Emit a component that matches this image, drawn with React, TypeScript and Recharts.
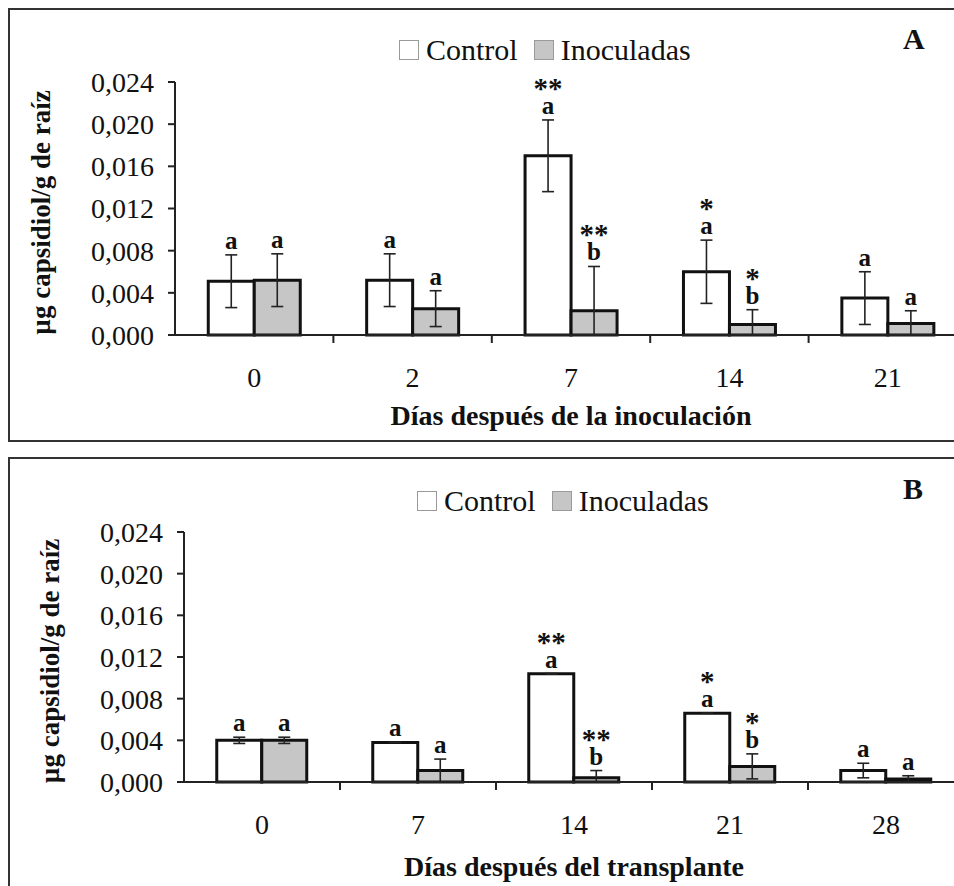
import React from 'react';
import { BarChart, Bar, XAxis, YAxis, ErrorBar, LabelList, Legend } from 'recharts';

const FONT = '"Liberation Serif", "Times New Roman", Times, serif';

// ---------- Panel A: días después de la inoculación ----------
const daysA = ['0', '2', '7', '14', '21'];
const controlA = [0.0051, 0.0052, 0.0170, 0.0060, 0.0035];
const inocA = [0.0052, 0.0025, 0.0023, 0.0010, 0.0011];
const controlAErr = [0.0025, 0.0025, 0.0034, 0.0030, 0.0025];
const inocAErr = [0.0025, 0.0017, 0.0042, 0.0014, 0.0012];
const controlALetters = ['a', 'a', 'a', 'a', 'a'];
const inocALetters = ['a', 'a', 'b', 'b', 'a'];
const controlAStars = ['', '', '**', '*', ''];
const inocAStars = ['', '', '**', '*', ''];

// ---------- Panel B: días después del transplante ----------
const daysB = ['0', '7', '14', '21', '28'];
const controlB = [0.0040, 0.0038, 0.0104, 0.0066, 0.0011];
const inocB = [0.0040, 0.0011, 0.0004, 0.0015, 0.0003];
const controlBErr = [0.0003, 0, 0, 0, 0.0007];
const inocBErr = [0.0003, 0.0011, 0.0007, 0.0012, 0.0003];
const controlBLetters = ['a', 'a', 'a', 'a', 'a'];
const inocBLetters = ['a', 'a', 'b', 'b', 'a'];
const controlBStars = ['', '', '**', '*', ''];
const inocBStars = ['', '', '**', '*', ''];

const yTicks = [0, 0.004, 0.008, 0.012, 0.016, 0.02, 0.024];

const X_TICK_SIZE = 6;
const X_TICK_MARGIN = 26;

const buildRows = (days, ctrl, inoc, ctrlErr, inocErr) =>
  days.map((d, i) => ({
    day: d,
    control: ctrl[i],
    inoc: inoc[i],
    controlErr: [Math.min(ctrlErr[i], ctrl[i]), ctrlErr[i]],
    inocErr: [Math.min(inocErr[i], inoc[i]), inocErr[i]],
  }));

const rowsA = buildRows(daysA, controlA, inocA, controlAErr, inocAErr);
const rowsB = buildRows(daysB, controlB, inocB, controlBErr, inocBErr);

const fmt = (v) => v.toFixed(3).replace('.', ',');

const makeLabel = (letters, stars, errs) => (props) => {
  const vb = props.viewBox || props;
  const x = Number(vb.x ?? props.x);
  const y = Number(vb.y ?? props.y);
  const w = Number(vb.width ?? props.width);
  const h = Number(vb.height ?? props.height);
  const idx = props.index;
  const v = Number(props.value);
  const ppu = v > 0 ? Math.abs(h) / v : 0;
  const top = Math.min(y, y + h) - (errs[idx] || 0) * ppu;
  const cx = x + w / 2;
  const base = top - 6;
  return (
    <g>
      <text x={cx} y={base} textAnchor="middle" fontFamily={FONT} fontWeight="bold" fontSize={25} fill="#111">
        {letters[idx]}
      </text>
      {stars[idx] ? (
        <text x={cx} y={base - 16} textAnchor="middle" fontFamily={FONT} fontWeight="bold" fontSize={29} fill="#111">
          {stars[idx]}
        </text>
      ) : null}
    </g>
  );
};

const makeXTick = (fallbackHalf) => (props) => {
  const { x, y, payload, index, visibleTicksCount } = props;
  const half = payload && typeof payload.offset === 'number' && payload.offset > 0 ? payload.offset : fallbackHalf;
  const axisY = y - X_TICK_SIZE - X_TICK_MARGIN;
  const last = typeof visibleTicksCount === 'number' ? index >= visibleTicksCount - 1 : false;
  return (
    <g>
      <text x={x} y={y} dy="0.71em" textAnchor="middle" fontFamily={FONT} fontSize={28} fill="#111">
        {payload.value}
      </text>
      {!last ? (
        <line x1={x + half} x2={x + half} y1={axisY} y2={axisY + 8} stroke="#222" strokeWidth={2} />
      ) : null}
    </g>
  );
};

const legendSquare = (bg) => ({
  width: 20,
  height: 20,
  border: '1px solid #9a9a9a',
  background: bg,
  display: 'inline-block',
  boxSizing: 'border-box' as const,
});

const LegendContent = () => (
  <div
    style={{
      display: 'flex',
      alignItems: 'center',
      fontFamily: FONT,
      fontSize: 30,
      lineHeight: '30px',
      color: '#111',
      whiteSpace: 'nowrap',
    }}
  >
    <span style={{ ...legendSquare('#ffffff'), marginRight: 7 }} />
    <span>Control</span>
    <span style={{ ...legendSquare('#c6c6c6'), marginLeft: 16, marginRight: 7 }} />
    <span>Inoculadas</span>
  </div>
);

const yLabel = (props) => {
  const vb = props.viewBox || {};
  const cx = vb.x - 54;
  const cy = vb.y + vb.height / 2 + 4;
  return (
    <text
      x={cx}
      y={cy}
      transform={`rotate(-90 ${cx} ${cy})`}
      textAnchor="middle"
      dominantBaseline="central"
      fontFamily={FONT}
      fontWeight="bold"
      fontSize={27}
      fill="#111"
    >
      µg capsidiol/g de raíz
    </text>
  );
};

const Y_AXIS_WIDTH = 80;

const Panel = ({ rows, title, letters, stars, errs, geom }) => {
  const { width, height, margin, legendLeft, legendTop, titleOffset } = geom;
  const plotW = width - margin.left - margin.right - Y_AXIS_WIDTH;
  const fallbackHalf = plotW / rows.length / 2;
  return (
    <BarChart
      width={width}
      height={height}
      data={rows}
      margin={margin}
      barCategoryGap="21%"
      barGap={0}
      style={{ fontFamily: FONT }}
    >
      <XAxis
        dataKey="day"
        height={100}
        interval={0}
        axisLine={{ stroke: '#222', strokeWidth: 2 }}
        tickLine={false}
        tickSize={X_TICK_SIZE}
        tickMargin={X_TICK_MARGIN}
        tick={makeXTick(fallbackHalf)}
        label={{
          value: title,
          position: 'insideBottom',
          offset: titleOffset,
          fill: '#111',
          fontSize: 28,
          fontWeight: 'bold',
          fontFamily: FONT,
        }}
      />
      <YAxis
        width={Y_AXIS_WIDTH}
        domain={[0, 0.024]}
        ticks={yTicks}
        interval={0}
        tickFormatter={fmt}
        axisLine={{ stroke: '#222', strokeWidth: 2 }}
        tickLine={{ stroke: '#222', strokeWidth: 2 }}
        tickSize={7}
        tickMargin={14}
        tick={{ fill: '#111', fontSize: 28, fontFamily: FONT }}
        label={{ content: yLabel }}
      />
      <Legend
        layout="horizontal"
        verticalAlign="middle"
        align="center"
        content={LegendContent}
        wrapperStyle={{ top: legendTop, left: legendLeft, width: 'auto' }}
      />
      <Bar dataKey="control" fill="#ffffff" stroke="#111" strokeWidth={3} isAnimationActive={false}>
        <ErrorBar dataKey="controlErr" width={6} stroke="#222" strokeWidth={1.6} direction="y" />
        <LabelList dataKey="control" content={makeLabel(letters.control, stars.control, errs.control)} />
      </Bar>
      <Bar dataKey="inoc" fill="#c6c6c6" stroke="#111" strokeWidth={3} isAnimationActive={false}>
        <ErrorBar dataKey="inocErr" width={6} stroke="#222" strokeWidth={1.6} direction="y" />
        <LabelList dataKey="inoc" content={makeLabel(letters.inoc, stars.inoc, errs.inoc)} />
      </Bar>
    </BarChart>
  );
};

const boxStyle = (top, height) => ({
  position: 'absolute' as const,
  left: 8,
  top,
  width: 980,
  height,
  border: '2px solid #333',
  boxSizing: 'border-box' as const,
});

const panelLetter = (top, text) => (
  <div
    style={{
      position: 'absolute',
      left: 903,
      top,
      fontFamily: FONT,
      fontWeight: 'bold',
      fontSize: 30,
      lineHeight: '30px',
      color: '#111',
    }}
  >
    {text}
  </div>
);

export default function App() {
  return (
    <div
      style={{
        position: 'absolute',
        left: 0,
        top: 0,
        width: 954,
        height: 886,
        overflow: 'hidden',
        background: '#fff',
      }}
    >
      <div style={boxStyle(8, 434)} />
      <div style={boxStyle(457, 440)} />
      <div style={{ position: 'absolute', left: 0, top: 0 }}>
        <Panel
          rows={rowsA}
          title="Días después de la inoculación"
          letters={{ control: controlALetters, inoc: inocALetters }}
          stars={{ control: controlAStars, inoc: inocAStars }}
          errs={{ control: controlAErr, inoc: inocAErr }}
          geom={{
            width: 1000,
            height: 440,
            margin: { top: 82, right: 33, bottom: 5, left: 95 },
            legendLeft: 399,
            legendTop: 35,
            titleOffset: 10,
          }}
        />
      </div>
      <div style={{ position: 'absolute', left: 0, top: 449 }}>
        <Panel
          rows={rowsB}
          title="Días después del transplante"
          letters={{ control: controlBLetters, inoc: inocBLetters }}
          stars={{ control: controlBStars, inoc: inocBStars }}
          errs={{ control: controlBErr, inoc: inocBErr }}
          geom={{
            width: 1000,
            height: 437,
            margin: { top: 83, right: 36, bottom: 4, left: 104 },
            legendLeft: 417,
            legendTop: 37,
            titleOffset: 6,
          }}
        />
      </div>
      {panelLetter(24, 'A')}
      {panelLetter(474, 'B')}
    </div>
  );
}
